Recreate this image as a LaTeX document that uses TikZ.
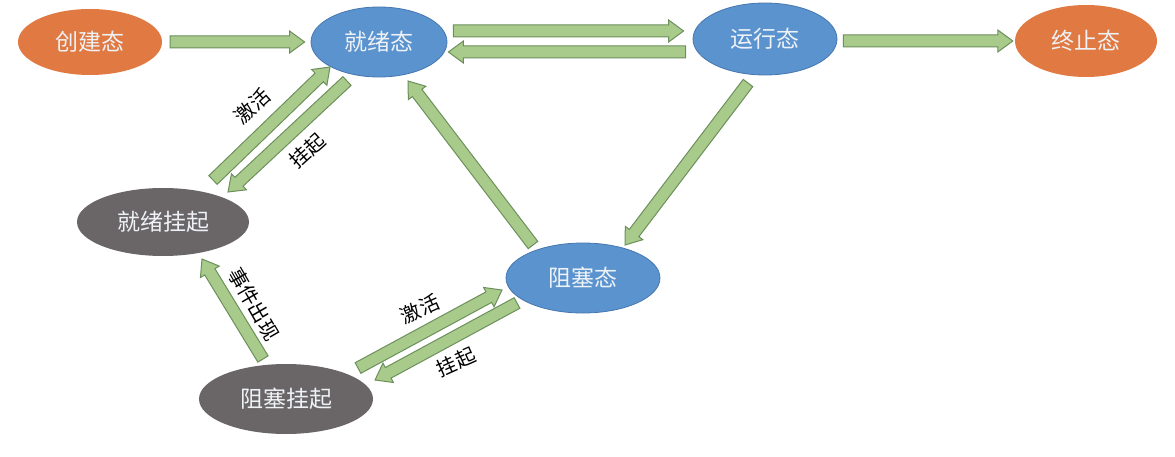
\documentclass[tikz,border=0pt]{standalone}
\usepackage{fontspec}
\newfontfamily\cjk{Noto Sans CJK SC}
\usetikzlibrary{calc,shapes.geometric}
\definecolor{org}{HTML}{E07A42}
\definecolor{blu}{HTML}{5B93CF}
\definecolor{bluline}{HTML}{4677AE}
\definecolor{gry}{HTML}{6A6667}
\definecolor{grn}{HTML}{A8CB8B}
\definecolor{grnline}{HTML}{6D8F5C}
\definecolor{txt}{HTML}{EEF2F6}
\begin{document}
\begin{tikzpicture}[x=1pt,y=1pt,
  st/.style={ellipse, inner sep=0pt, text=txt, font=\cjk\fontsize{23}{26}\selectfont},
  orst/.style={st, fill=org},
  blst/.style={st, fill=blu, draw=bluline, line width=0.8pt},
  grst/.style={st, fill=gry},
  lab/.style={font=\cjk\fontsize{20}{22}\selectfont, text=black, inner sep=0pt},
  fatarr/.style={fill=grn, draw=grnline, line width=1pt, line join=miter,
    to path={let \p1=(\tikztostart), \p2=(\tikztotarget),
      \n1={atan2(\y2-\y1,\x2-\x1)}, \n2={veclen(\x2-\x1,\y2-\y1)}, \n3={\n2-15} in
      ($(\p1)+(\n1+90:6)$) -- ($(\p1)+(\n1:\n3)+(\n1+90:6)$) -- ($(\p1)+(\n1:\n3)+(\n1+90:11)$)
      -- (\p2) -- ($(\p1)+(\n1:\n3)+(\n1-90:11)$) -- ($(\p1)+(\n1:\n3)+(\n1-90:6)$)
      -- ($(\p1)+(\n1-90:6)$) -- cycle}}]
\useasboundingbox (0,0) rectangle (1175,-457);
% states
\node[orst, minimum width=144pt, minimum height=66pt] (cj) at (90,-42) {创建态};
\node[blst, minimum width=136pt, minimum height=70pt] (jx) at (379,-42) {就绪态};
\node[blst, minimum width=144pt, minimum height=72pt] (yx) at (765,-39) {运行态};
\node[orst, minimum width=142pt, minimum height=72pt] (zz) at (1086,-41) {终止态};
\node[grst, minimum width=172pt, minimum height=68pt] (jg) at (163,-222) {就绪挂起};
\node[blst, minimum width=154pt, minimum height=70pt] (zs) at (583,-278) {阻塞态};
\node[grst, minimum width=174pt, minimum height=70pt] (zg) at (286,-399) {阻塞挂起};
% arrows
\draw[fatarr] ([xshift=8]cj.east) to ([xshift=-6]jx.west);
\draw[fatarr] ([xshift=6,yshift=11]jx.east) to ([xshift=-9,yshift=8]yx.west);
\draw[fatarr] ([xshift=-7,yshift=-13]yx.west) to ([xshift=1,yshift=-10]jx.east);
\draw[fatarr] ([xshift=6,yshift=-2]yx.east) to ([xshift=-2]zz.west);
\draw[fatarr] ($(jg)+(50,42)$) to ($(jx)+(-49,-25)$);
\draw[fatarr] ($(jx)+(-32,-39)$) to ($(jg)+(65,30)$);
\draw[fatarr] ($(zs)+(-50,33)$) to ($(jx)+(29,-39)$);
\draw[fatarr] ($(yx)+(-17,-44)$) to ($(zs)+(42,33)$);
\draw[fatarr] ($(zg)+(-23,40)$) to ($(jg)+(39,-37)$);
\draw[fatarr] ($(zg)+(72,31)$) to ($(zs)+(-81,-12)$);
\draw[fatarr] ($(zs)+(-66,-25)$) to ($(zg)+(89,19)$);
% labels
\node[lab, rotate=42] (l1) at (252,-106) {激活};
\node[lab, rotate=42] (l2) at (307,-151) {挂起};
\node[lab, rotate=-60] (l3) at (254,-304) {事件出现};
\node[lab, rotate=24] (l4) at (420,-309) {激活};
\node[lab, rotate=24] (l5) at (456,-362) {挂起};
\end{tikzpicture}
\end{document}
